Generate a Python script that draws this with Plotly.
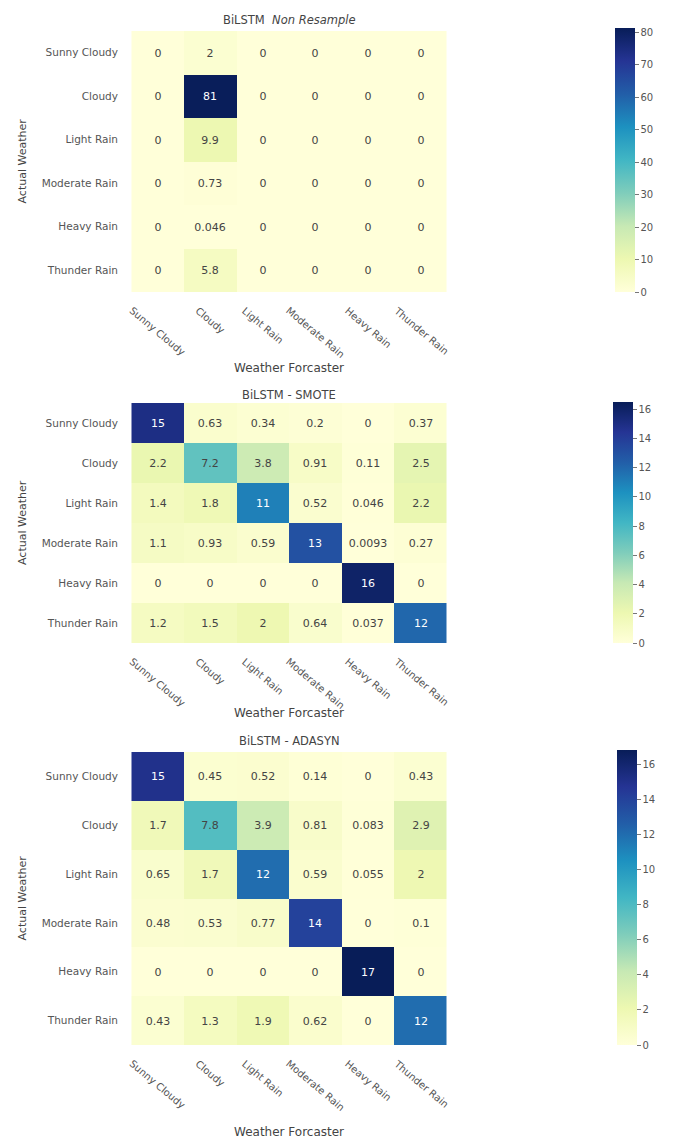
import plotly.graph_objects as go

# Weather classes (rows = actual, columns = forecast)
classes = ["Sunny Cloudy", "Cloudy", "Light Rain", "Moderate Rain", "Heavy Rain", "Thunder Rain"]

# Normalised confusion matrices (percent) for each resampling strategy
non_resample = [
    [0, 2, 0, 0, 0, 0],
    [0, 81, 0, 0, 0, 0],
    [0, 9.9, 0, 0, 0, 0],
    [0, 0.73, 0, 0, 0, 0],
    [0, 0.046, 0, 0, 0, 0],
    [0, 5.8, 0, 0, 0, 0],
]
smote = [
    [15, 0.63, 0.34, 0.2, 0, 0.37],
    [2.2, 7.2, 3.8, 0.91, 0.11, 2.5],
    [1.4, 1.8, 11, 0.52, 0.046, 2.2],
    [1.1, 0.93, 0.59, 13, 0.0093, 0.27],
    [0, 0, 0, 0, 16, 0],
    [1.2, 1.5, 2, 0.64, 0.037, 12],
]
adasyn = [
    [15, 0.45, 0.52, 0.14, 0, 0.43],
    [1.7, 7.8, 3.9, 0.81, 0.083, 2.9],
    [0.65, 1.7, 12, 0.59, 0.055, 2],
    [0.48, 0.53, 0.77, 14, 0, 0.1],
    [0, 0, 0, 0, 17, 0],
    [0.43, 1.3, 1.9, 0.62, 0, 12],
]

titles = [
    "BiLSTM\u00a0\u00a0<i>Non Resample</i>",
    "BiLSTM - SMOTE",
    "BiLSTM - ADASYN",
]
colorbar_max = [81.4, 16.5, 16.8]
colorbar_dtick = [10, 2, 2]

YLGNBU = ["#ffffd9", "#edf8b1", "#c7e9b4", "#7fcdbb", "#41b6c4",
          "#1d91c0", "#225ea8", "#253494", "#081d58"]
colorscale = [[i / (len(YLGNBU) - 1), c] for i, c in enumerate(YLGNBU)]

W, H = 676, 1139
X0, X1 = 125, 453
panel_px = [(31, 292), (403, 643), (752, 1045)]
cbar_px = [(28, 292), (402, 643), (750, 1045)]
cbar_x = [615, 613, 617]
title_px = [20, 395, 741]
xtitle_px = [368, 713, 1132]
FONT = "DejaVu Sans"
GREY = "#555555"


def fx(px):
    return px / W


def fy(py):
    return 1 - py / H


def fmt(v):
    return format(v, ".2g")


fig = go.Figure()
annotations = []
layout_axes = {}

for i, (mat, title) in enumerate(zip([non_resample, smote, adasyn], titles)):
    n = i + 1
    suffix = "" if n == 1 else str(n)
    top, bot = panel_px[i]
    cb_top, cb_bot = cbar_px[i]

    fig.add_trace(go.Heatmap(
        z=mat,
        x=classes,
        y=classes,
        text=[[fmt(v) for v in row] for row in mat],
        texttemplate="%{text}",
        textfont=dict(family=FONT, size=11),
        colorscale=colorscale,
        zmin=0,
        zmax=colorbar_max[i],
        xaxis="x" + suffix,
        yaxis="y" + suffix,
        hoverinfo="skip",
        colorbar=dict(
            x=fx(cbar_x[i]), xanchor="left",
            y=fy(cb_top), yanchor="top",
            len=cb_bot - cb_top, lenmode="pixels",
            thickness=20, thicknessmode="pixels",
            outlinewidth=0, xpad=0, ypad=0,
            ticks="outside", ticklen=4, tickwidth=1, tickcolor="#777",
            dtick=colorbar_dtick[i], tick0=0,
            tickfont=dict(family=FONT, size=10, color=GREY),
        ),
    ))

    layout_axes["xaxis" + suffix] = dict(
        domain=[fx(X0), fx(X1)],
        anchor="y" + suffix,
        showticklabels=False, ticks="",
        showgrid=False, zeroline=False, showline=False,
    )
    layout_axes["yaxis" + suffix] = dict(
        domain=[fy(bot), fy(top)],
        anchor="x" + suffix,
        autorange="reversed",
        ticks="", ticklabelstandoff=6,
        tickfont=dict(family=FONT, size=10.5, color=GREY),
        showgrid=False, zeroline=False, showline=False,
    )

    # rotated forecast labels under each column
    for c in classes:
        annotations.append(dict(
            x=c, xref="x" + suffix,
            y=0, yref="y" + suffix + " domain",
            yshift=-10,
            text=c, textangle=40, showarrow=False,
            xanchor="center", yanchor="top",
            font=dict(family=FONT, size=10, color=GREY),
        ))

    # panel title
    annotations.append(dict(
        x=fx((X0 + X1) / 2), y=fy(title_px[i]), xref="paper", yref="paper",
        text=title, showarrow=False, xanchor="center", yanchor="middle",
        font=dict(family=FONT, size=11.5, color="#444"),
    ))
    # x-axis title
    annotations.append(dict(
        x=fx((X0 + X1) / 2), y=fy(xtitle_px[i]), xref="paper", yref="paper",
        text="Weather Forcaster", showarrow=False, xanchor="center", yanchor="middle",
        font=dict(family=FONT, size=12, color="#444"),
    ))
    # y-axis title
    annotations.append(dict(
        x=fx(22), y=fy((top + bot) / 2), xref="paper", yref="paper",
        text="Actual Weather", textangle=-90, showarrow=False,
        xanchor="center", yanchor="middle",
        font=dict(family=FONT, size=11, color="#444"),
    ))

fig.update_layout(
    width=W, height=H,
    margin=dict(l=0, r=0, t=0, b=0),
    paper_bgcolor="white", plot_bgcolor="white",
    font=dict(family=FONT, color="#444"),
    annotations=annotations,
    showlegend=False,
    **layout_axes,
)

fig.write_html("out.html")
